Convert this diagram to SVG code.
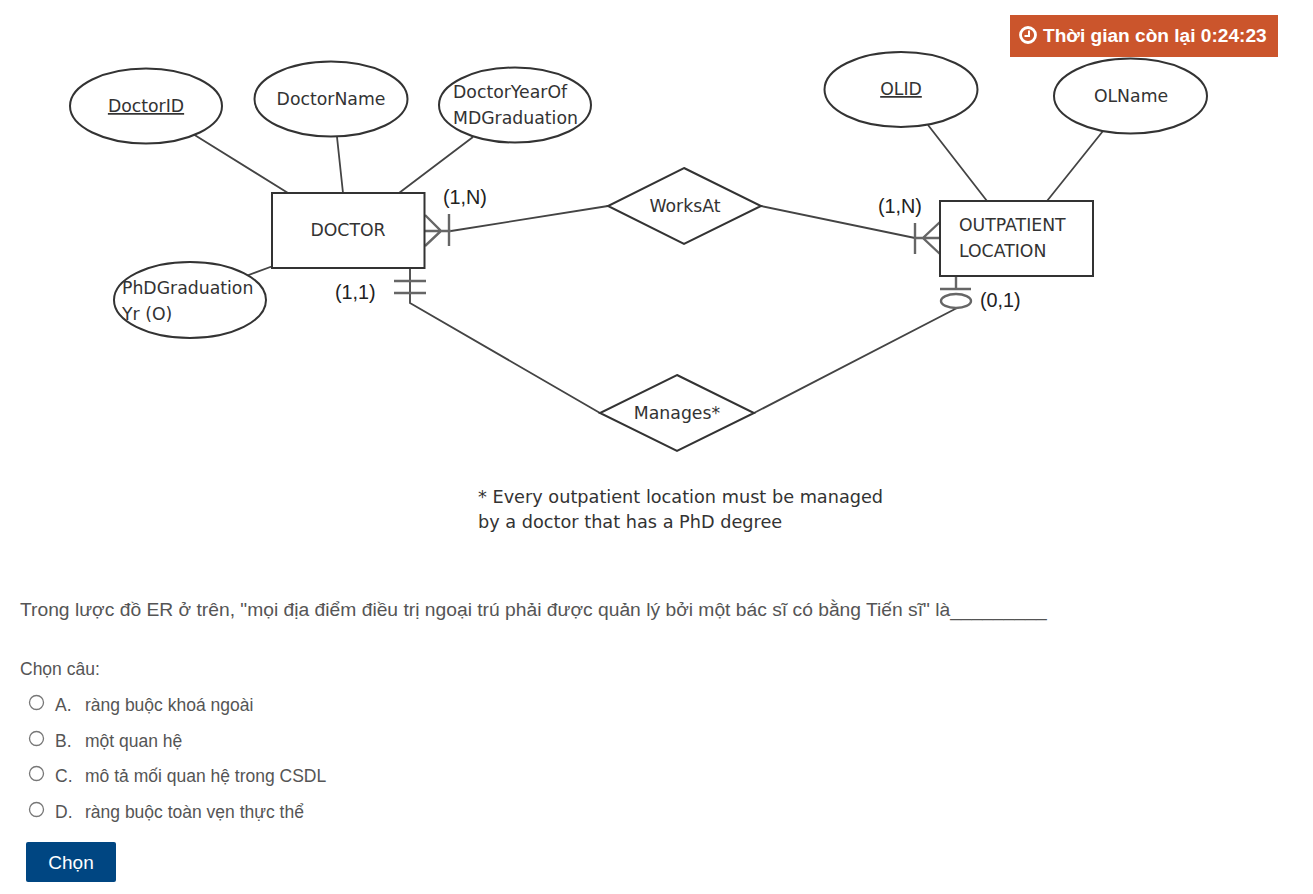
<svg xmlns="http://www.w3.org/2000/svg" width="1313" height="894" viewBox="0 0 1313 894">
<style>
.s{fill:none;stroke:#444;stroke-width:1.8}
.b{fill:#fff;stroke:#333;stroke-width:2}
.m{fill:none;stroke:#666;stroke-width:2.400}
.d{fill:#333;font-family:"DejaVu Sans",sans-serif;font-size:17.300px}
.n{fill:#333;font-family:"DejaVu Sans",sans-serif;font-size:17.700px}
.c{font-family:"Liberation Sans",sans-serif;font-size:19.800px;fill:#222}
.q{font-family:"Liberation Sans",sans-serif;font-size:17.500px;fill:#555}
.r{fill:#fff;stroke:#777;stroke-width:1.300}
</style>
<rect width="1313" height="894" fill="#fff"/>
<g id="connectors">
<path class="s" d="M193 134L288 193M337 137L343 193M473 137L399 193M273 266L246 276"/>
<path class="s" d="M928 125L987 201M1103 131L1047 201"/>
<path class="s" d="M451 231L608 206M761 206L915 238"/>
<path class="s" d="M410 268V303L600 413M754 413L957 308"/>
<path class="m" d="M425 215L441 231L425 246M425 231H451M449 214V246"/>
<path class="m" d="M940 222L923 238L940 254M915 238H940M915 223V254"/>
<path class="m" d="M394 281H426M394 293H426"/>
<path class="m" d="M956 276V290M940 289H971"/>
<ellipse class="m" cx="956" cy="301" rx="15" ry="7"/>
</g>
<g id="DoctorID"><ellipse class="b" cx="146" cy="106" rx="76" ry="37.500"/><text class="d" x="146" y="112" text-anchor="middle" text-decoration="underline">DoctorID</text></g>
<g id="DoctorName"><ellipse class="b" cx="331" cy="99" rx="76.500" ry="37.500"/><text class="d" x="331" y="105" text-anchor="middle">DoctorName</text></g>
<g id="DoctorYear"><ellipse class="b" cx="515" cy="105" rx="76" ry="37.500"/><text class="d" x="453" y="98">DoctorYearOf</text><text class="d" x="453" y="124">MDGraduation</text></g>
<g id="PhD"><ellipse class="b" cx="190" cy="300" rx="76" ry="38"/><text class="d" x="122" y="294">PhDGraduation</text><text class="d" x="122" y="320">Yr (O)</text></g>
<g id="DOCTOR"><rect class="b" x="272" y="193" width="152.500" height="75"/><text class="d" x="348" y="236" text-anchor="middle">DOCTOR</text></g>
<g id="WorksAt"><path class="b" d="M684 168L761 206L684 244L608 206Z"/><text class="d" x="685" y="212" text-anchor="middle">WorksAt</text></g>
<g id="Manages"><path class="b" d="M677 375L754 413L677 451L600 413Z"/><text class="d" x="677" y="419" text-anchor="middle">Manages*</text></g>
<g id="OLID"><ellipse class="b" cx="901" cy="89.500" rx="76.500" ry="37.500"/><text class="d" x="901" y="95" text-anchor="middle" text-decoration="underline">OLID</text></g>
<g id="OLName"><ellipse class="b" cx="1130.500" cy="96" rx="76.500" ry="37.500"/><text class="d" x="1131" y="102" text-anchor="middle">OLName</text></g>
<g id="OUTPATIENT"><rect class="b" x="940" y="201" width="153" height="75"/><text class="d" x="959" y="231">OUTPATIENT</text><text class="d" x="959" y="257">LOCATION</text></g>
<g id="labels">
<text class="c" x="443" y="204">(1,N)</text>
<text class="c" x="878" y="213">(1,N)</text>
<text class="c" x="335" y="299">(1,1)</text>
<text class="c" x="980" y="307">(0,1)</text>
<text class="n" x="478" y="503">* Every outpatient location must be managed</text>
<text class="n" x="478" y="528">by a doctor that has a PhD degree</text>
</g>
<g id="timer">
<rect x="1010" y="15" width="268" height="42" fill="#cb552c"/>
<circle cx="1028" cy="35" r="7.500" fill="none" stroke="#fff" stroke-width="2.800"/>
<path d="M1029 30.500V36H1024.500" fill="none" stroke="#fff" stroke-width="2"/>
<text x="1043" y="42" font-family="Liberation Sans,sans-serif" font-size="19.100" font-weight="700" fill="#fff">Thời gian còn lại 0:24:23</text>
</g>
<g id="question">
<text x="20" y="616" font-family="Liberation Sans,sans-serif" font-size="19.250" fill="#555">Trong lược đồ ER ở trên, "mọi địa điểm điều trị ngoại trú phải được quản lý bởi một bác sĩ có bằng Tiến sĩ" là_________</text>
<text class="q" x="20" y="675">Chọn câu:</text>
<circle class="r" cx="36.500" cy="702.500" r="7"/>
<text class="q" x="55" y="711">A.</text><text class="q" x="85" y="711">ràng buộc khoá ngoài</text>
<circle class="r" cx="36.500" cy="738.500" r="7"/>
<text class="q" x="55" y="747">B.</text><text class="q" x="85" y="747">một quan hệ</text>
<circle class="r" cx="36.500" cy="773.500" r="7"/>
<text class="q" x="55" y="782">C.</text><text class="q" x="85" y="782">mô tả mối quan hệ trong CSDL</text>
<circle class="r" cx="36.500" cy="809.500" r="7"/>
<text class="q" x="55" y="818">D.</text><text class="q" x="85" y="818">ràng buộc toàn vẹn thực thể</text>
<rect x="26" y="842" width="90" height="40" rx="2" fill="#004682"/>
<text x="71" y="869" font-family="Liberation Sans,sans-serif" font-size="19" fill="#fff" text-anchor="middle">Chọn</text>
</g>
</svg>
